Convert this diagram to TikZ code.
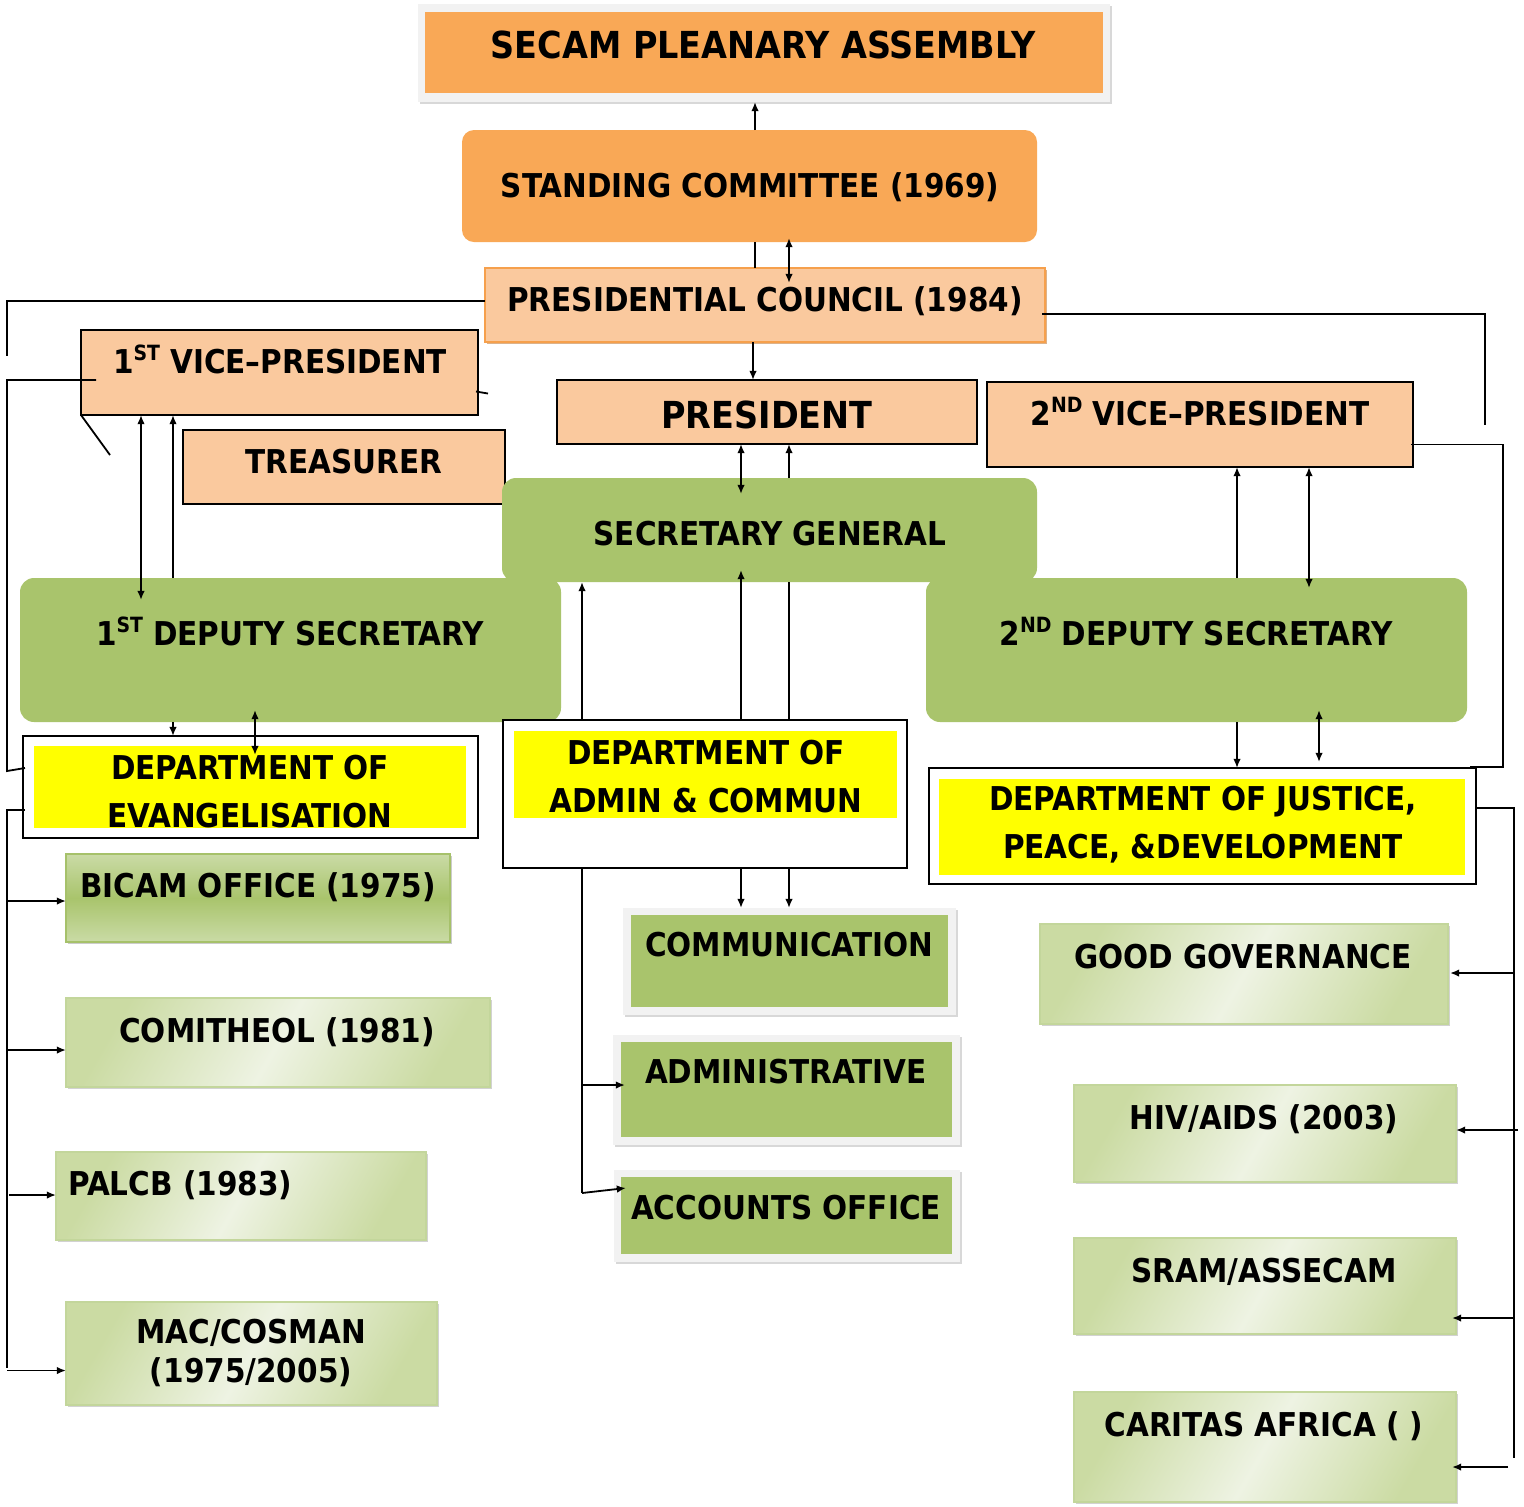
\documentclass[tikz,border=0pt]{standalone}
\usepackage{fontspec}
\setmainfont{DejaVu Sans Condensed}
\usetikzlibrary{arrows.meta,fit,shadows,calc}
\definecolor{orA}{HTML}{F9A856}
\definecolor{peach}{HTML}{FAC99E}
\definecolor{orB}{HTML}{F6A04C}
\definecolor{grn}{HTML}{A9C46C}
\definecolor{lg1}{HTML}{CBDBA3}
\definecolor{lg2}{HTML}{EEF3E3}
\definecolor{lgb}{HTML}{C3D69B}
\definecolor{frm}{HTML}{F2F2F2}
\definecolor{bic1}{HTML}{CADBA6}
\definecolor{bicb}{HTML}{A6C16A}
\definecolor{yl}{HTML}{FFFF00}
\newcommand\mysup[1]{\raisebox{0.42em}{\fontsize{10.5}{10.5}\selectfont #1}}
\newcommand\bx[6]{\node[fit={(#2,#3) (#4,#5)},inner sep=0pt,outer sep=0pt,#6] (#1) {};}
\begin{document}
\begin{tikzpicture}[x=0.5pt,y=-0.5pt,
 ln/.style={line width=0.9pt,draw=black},
 arr/.style={ln,-{Latex[length=4.6pt,width=3.8pt]}},
 darr/.style={ln,{Latex[length=4.6pt,width=3.8pt]}-{Latex[length=4.6pt,width=3.8pt]}},
 lbl/.style={inner sep=0pt,font=\fontsize{16.4}{24}\selectfont\bfseries,text height=11.9pt,text depth=0pt},
 biglbl/.style={inner sep=0pt,font=\fontsize{18.6}{24}\selectfont\bfseries,text height=13.5pt,text depth=0pt},
 ml/.style={inner sep=0pt,align=center,font=\fontsize{16.4}{24}\selectfont\bfseries},
 peachbox/.style={fill=peach,draw=black,line width=0.9pt},
 orbox/.style={fill=orA,rounded corners=6pt},
 grnbox/.style={fill=grn,rounded corners=7pt},
 greyframe/.style={fill=frm,drop shadow={shadow xshift=1pt,shadow yshift=-1pt,opacity=0.3}},
 lgbox/.style={draw=lgb,line width=1pt,left color=lg1,right color=lg1,middle color=lg2,shading angle=60,drop shadow={shadow xshift=1.2pt,shadow yshift=-1.2pt,opacity=0.35}},
 deptbox/.style={fill=white,draw=black,line width=0.9pt},
 yel/.style={fill=yl},
]
\useasboundingbox (0,0) rectangle (1524,1506);
\fill[white] (0,0) rectangle (1524,1506);
% boxes
\bx{secam}{418}{4}{1110}{102}{greyframe}
\bx{secami}{425}{12}{1103}{93}{fill=orA}
\bx{stand}{462}{130}{1037}{242}{orbox}
\bx{coun}{485}{268}{1045}{342}{fill=peach,draw=orB,line width=1.2pt,drop shadow={shadow xshift=1.2pt,shadow yshift=-1.2pt,fill=orB!80!black,opacity=0.6}}
\bx{vp1}{81}{330}{478}{415}{peachbox}
\bx{tre}{183}{430}{505}{504}{peachbox}
\bx{pres}{557}{380}{977}{444}{peachbox}
\bx{vp2}{987}{382}{1413}{467}{peachbox}
\bx{sg}{502}{478}{1037}{582}{grnbox}
\bx{ds1}{20}{578}{561}{722}{grnbox}
\bx{ds2}{926}{578}{1467}{722}{grnbox}
\bx{evang}{23}{736}{478}{838}{deptbox}
\bx{evangi}{34}{746}{466}{828}{yel}
\bx{dadm}{503}{720}{907}{868}{deptbox}
\bx{dadmi}{514}{731}{897}{818}{yel}
\bx{jpd}{929}{768}{1476}{884}{deptbox}
\bx{jpdi}{939}{779}{1465}{875}{yel}
\bx{bicam}{66}{854}{450}{942}{draw=bicb,line width=1pt,top color=bic1,bottom color=bic1,middle color=grn,drop shadow={shadow xshift=1.2pt,shadow yshift=-1.2pt,opacity=0.4}}
\bx{comi}{66}{998}{490}{1087}{lgbox}
\bx{palcb}{56}{1152}{426}{1240}{lgbox}
\bx{mac}{66}{1302}{437}{1405}{lgbox}
\bx{commo}{623}{908}{956}{1015}{greyframe}
\bx{commi}{631}{915}{948}{1007}{fill=grn}
\bx{admo}{613}{1035}{960}{1145}{greyframe}
\bx{admi}{621}{1042}{952}{1137}{fill=grn}
\bx{acco}{614}{1170}{960}{1262}{greyframe}
\bx{acci}{621}{1177}{952}{1254}{fill=grn}
\bx{gg}{1040}{924}{1448}{1024}{lgbox}
\bx{hiv}{1074}{1085}{1456}{1182}{lgbox}
\bx{sram}{1074}{1238}{1456}{1334}{lgbox}
\bx{car}{1074}{1392}{1456}{1502}{lgbox}
% texts
\node[biglbl] (secam-t) at (763,45) {SECAM PLEANARY ASSEMBLY};
\node[lbl] (stand-t) at (750,186) {STANDING COMMITTEE (1969)};
\node[lbl] (coun-t) at (765,300) {PRESIDENTIAL COUNCIL (1984)};
\node[lbl] (vp1-t) at (280,362) {1\mysup{ST} VICE–PRESIDENT};
\node[lbl] (tre-t) at (344,462) {TREASURER};
\node[biglbl] (pres-t) at (767,415) {PRESIDENT};
\node[lbl] (vp2-t) at (1200,414) {2\mysup{ND} VICE–PRESIDENT};
\node[lbl] (sg-t) at (770,534) {SECRETARY GENERAL};
\node[lbl] (ds1-t) at (290,634) {1\mysup{ST} DEPUTY SECRETARY};
\node[lbl] (ds2-t) at (1196,634) {2\mysup{ND} DEPUTY SECRETARY};
\node[ml] (evang-t) at (250,792) {DEPARTMENT OF\\EVANGELISATION};
\node[ml] (dadm-t) at (706,777) {DEPARTMENT OF\\ADMIN \& COMMUN};
\node[ml] (jpd-t) at (1203,825) {DEPARTMENT OF JUSTICE,\\PEACE, \&DEVELOPMENT};
\node[lbl] (bicam-t) at (258,886) {BICAM OFFICE (1975)};
\node[lbl] (comi-t) at (277,1031) {COMITHEOL (1981)};
\node[lbl,anchor=west] (palcb-t) at (68,1184) {PALCB (1983)};
\node[ml,font=\fontsize{16.4}{19.5}\selectfont\bfseries] (mac-t) at (251,1353) {MAC/COSMAN\\(1975/2005)};
\node[lbl] (comm-t) at (789,945) {COMMUNICATION};
\node[lbl] (adm-t) at (786,1072) {ADMINISTRATIVE};
\node[lbl] (acc-t) at (786,1208) {ACCOUNTS OFFICE};
\node[lbl] (gg-t) at (1243,957) {GOOD GOVERNANCE};
\node[lbl] (hiv-t) at (1264,1118) {HIV/AIDS (2003)};
\node[lbl] (sram-t) at (1264,1271) {SRAM/ASSECAM};
\node[lbl] (car-t) at (1264,1425) {CARITAS AFRICA ( )};
% free-end coordinates
\coordinate (lb1) at (7,356);
\coordinate (lb3) at (7,771);
\coordinate (lb4) at (7,1368);
\coordinate (rb1) at (1485,425);
\coordinate (rb2) at (1503,767);
\coordinate (rb4) at (1514,1458);
\coordinate (ab) at (582,1193);
% top connectors
\draw[arr] (stand.north -| 755,0) -- (secam.south -| 755,0);
\draw[ln] (stand.south -| 755,0) -- (coun.north -| 755,0);
\draw[darr] ($(stand.south -| 789,0)+(0,-4)$) -- ($(coun.north -| 789,0)+(0,15)$);
\draw[arr] (coun.south -| 753,0) -- (pres.north -| 753,0);
\draw[ln] ($(coun.west)+(0,-4)$) -| (lb1);
\draw[ln] ($(coun.east)+(-3,9)$) -| (rb1);
% 1st VP
\draw[ln] ($(vp1.west)+(15,7.5)$) -| (lb3) -- ($(evang.west)+(2,-19)$);
\draw[ln] (vp1.south west) -- ++(29,40);
\draw[ln] ($(vp1.east)+(-2,19)$) -- ++(12,2);
\draw[darr] (vp1.south -| 141,0) -- ($(ds1.north -| 141,0)+(0,22)$);
\draw[arr] (ds1.north -| 173,0) -- (vp1.south -| 173,0);
% president / SG
\draw[darr] (pres.south -| 741,0) -- ($(sg.north -| 741,0)+(0,16)$);
\draw[arr] (sg.north -| 789,0) -- (pres.south -| 789,0);
% 2nd VP
\draw[ln] ($(vp2.east)+(-2,20)$) -| (rb2) -- ($(jpd.north east)+(-6,-1)$);
\draw[arr] (ds2.north -| 1237,0) -- (vp2.south -| 1237,0);
\draw[darr] (vp2.south -| 1309,0) -- ($(ds2.north -| 1309,0)+(0,10)$);
% SG to admin dept
\draw[arr] (dadm.north -| 582,0) -- (sg.south -| 582,0);
\draw[arr] (dadm.north -| 741,0) -- ($(sg.south -| 741,0)+(0,-12)$);
\draw[ln] (dadm.north -| 789,0) -- (sg.south -| 789,0);
\draw[ln] (dadm.south -| 582,0) -- (ab);
\coordinate (admin-in) at ($(admo.west)+(12,-5)$);
\draw[arr] (ab |- admin-in) -- (admin-in);
\draw[arr] (ab) -- ($(acco.west)+(12,-28)$);
\draw[arr] (dadm.south -| 741,0) -- (commo.north -| 741,0);
\draw[arr] (dadm.south -| 789,0) -- (commo.north -| 789,0);
% deputy 1 to evangelisation
\draw[arr] (ds1.south -| 173,0) -- (evang.north -| 173,0);
\draw[darr] ($(ds1.south -| 255,0)+(0,-12)$) -- ($(evang.north -| 255,0)+(0,19)$);
% deputy 2 to JPD
\draw[arr] (ds2.south -| 1237,0) -- (jpd.north -| 1237,0);
\draw[darr] ($(ds2.south -| 1319,0)+(0,-12)$) -- ($(jpd.north -| 1319,0)+(0,-6)$);
% left bus
\draw[ln] ($(evang.west)+(2,23)$) -| (lb4);
\coordinate (bicam-in) at ($(bicam.west)+(0,3)$);
\coordinate (comi-in) at ($(comi.west)+(0,7.5)$);
\coordinate (palcb-in) at ($(palcb.west)+(0,-1)$);
\coordinate (mac-in) at ($(mac.west)+(0,17)$);
\draw[arr] (lb4 |- bicam-in) -- (bicam-in);
\draw[arr] (lb4 |- comi-in) -- (comi-in);
\draw[arr] ($(lb4 |- palcb-in)+(2,0)$) -- (palcb-in);
\draw[arr] (lb4 |- mac-in) -- (mac-in);
% right bus
\draw[ln] ($(jpd.east)+(0,-18)$) -| (rb4);
\coordinate (gg-in) at ($(gg.east)+(2,-1)$);
\coordinate (hiv-in) at ($(hiv.east)+(0,-3.5)$);
\coordinate (sram-in) at ($(sram.east)+(-4,32)$);
\coordinate (car-in) at ($(car.east)+(-4,20)$);
\draw[arr] (rb4 |- gg-in) -- (gg-in);
\draw[arr] ($(rb4 |- hiv-in)+(4,0)$) -- (hiv-in);
\draw[arr] (rb4 |- sram-in) -- (sram-in);
\draw[arr] ($(rb4 |- car-in)+(-6,0)$) -- (car-in);
\end{tikzpicture}
\end{document}
